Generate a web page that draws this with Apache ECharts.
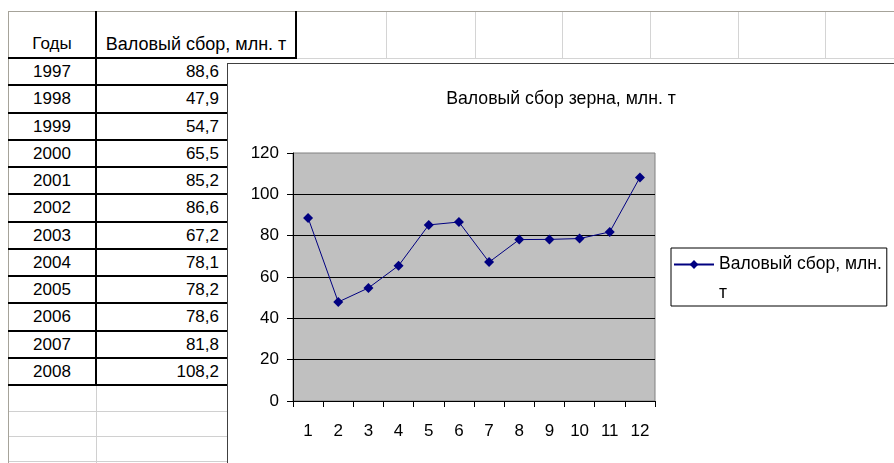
<!DOCTYPE html>
<html>
<head>
<meta charset="utf-8">
<script src="https://cdn.jsdelivr.net/npm/echarts@6/dist/echarts.min.js"></script>
<style>
html,body{margin:0;padding:0;width:894px;height:463px;overflow:hidden;background:#fff;font-family:"Liberation Sans",Arial,sans-serif;color:#000;}
#sheet{position:absolute;left:0;top:0;width:894px;height:463px;}
.abs{position:absolute;}
.txt{position:absolute;font-size:17px;white-space:nowrap;}
#chartWrap{position:absolute;left:227px;top:63px;width:667px;height:400px;border-left:1px solid #404040;border-top:1px solid #404040;background:#fff;box-sizing:border-box;}
#chart{position:absolute;left:0;top:0;width:666px;height:399px;}
</style>
</head>
<body>
<div id="sheet"></div>
<div id="chartWrap"><div id="chart"></div></div>
<script>
// ---- data ----
const years = ['1997','1998','1999','2000','2001','2002','2003','2004','2005','2006','2007','2008'];
const harvest = [88.6, 47.9, 54.7, 65.5, 85.2, 86.6, 67.2, 78.1, 78.2, 78.6, 81.8, 108.2];
const xLabels = ['1','2','3','4','5','6','7','8','9','10','11','12'];
const headers = ['Годы', 'Валовый сбор, млн. т'];
const chartTitle = 'Валовый сбор зерна, млн. т';
const seriesName = 'Валовый сбор, млн. т';
const yMin = 0, yMax = 120, yStep = 20;

// ---- spreadsheet background ----
const sheet = document.getElementById('sheet');
function box(x, y, w, h, c) {
  const d = document.createElement('div');
  d.className = 'abs';
  d.style.cssText = `left:${x}px;top:${y}px;width:${w}px;height:${h}px;background:${c};`;
  sheet.appendChild(d);
}
function txt(s, x, y, w, h, align, fs) {
  const d = document.createElement('div');
  d.className = 'txt';
  d.textContent = s;
  d.style.cssText += `left:${x}px;top:${y}px;width:${w}px;height:${h}px;line-height:${h}px;text-align:${align};` + (fs ? `font-size:${fs}px;` : '');
  sheet.appendChild(d);
}
// frame
box(8, 11, 886, 1, '#a6a39a');
box(8, 11, 1, 452, '#a6a39a');
// column grid lines in header row (right of table)
[386, 475, 562, 650, 738, 825].forEach(x => box(x, 12, 1, 47, '#d4d4d4'));
box(297, 58, 597, 1, '#d4d4d4');
// empty rows below table
const rowH = 27.25, firstRow = 57;
const tableBottom = Math.round(firstRow + rowH * years.length);
[411, 436, 461].forEach(y => box(9, y, 218, 1, '#d0d0d0'));
box(96, tableBottom, 1, 463 - tableBottom, '#d0d0d0');
// thick borders
box(95, 11, 2, tableBottom - 9, '#000');
box(295, 11, 2, 48, '#000');
box(8, firstRow, 289, 2, '#000');
for (let i = 1; i <= years.length; i++) {
  box(8, Math.round(firstRow + rowH * i), 219, 2, '#000');
}
// header texts
txt(headers[0], 9, 31, 86, 26, 'center');
txt(headers[1], 97, 31, 198, 26, 'center', 18);
// data cells
years.forEach((yr, i) => {
  const y0 = Math.round(firstRow + rowH * i) + 2;
  txt(yr, 9, y0, 86, 25, 'center');
  txt(harvest[i].toFixed(1).replace('.', ','), 97, y0, 122, 25, 'right');
});

// ---- chart ----
const FONT = '"Liberation Sans", Arial, sans-serif';
const chart = echarts.init(document.getElementById('chart'), null, {renderer: 'canvas'});
chart.setOption({
  animation: false,
  backgroundColor: '#fff',
  textStyle: {fontFamily: FONT, color: '#000'},
  title: {
    text: chartTitle,
    left: 'center',
    top: 21,
    padding: [5, 0, 5, 10],
    textStyle: {fontSize: 17.7, fontWeight: 'normal', color: '#000', fontFamily: FONT}
  },
  grid: {
    left: 65, top: 89, width: 362, height: 248,
    show: true, backgroundColor: '#c0c0c0', borderColor: '#808080', borderWidth: 1
  },
  legend: {
    orient: 'vertical',
    left: 443, top: 184,
    padding: [7, 5, 4, 2],
    borderColor: '#000', borderWidth: 1,
    itemWidth: 40, itemHeight: 11, itemGap: 0,
    selectedMode: false,
    formatter: n => {
      const m = n.match(/^(.*) (\S+)$/);
      return '{a|' + m[1] + '}\n{b|' + m[2] + '}';
    },
    textStyle: {
      fontSize: 17.5, color: '#000', fontFamily: FONT,
      rich: {
        a: {fontSize: 17.5, color: '#000', fontFamily: FONT, lineHeight: 57},
        b: {fontSize: 17.5, color: '#000', fontFamily: FONT, lineHeight: 1}
      }
    },
    data: [seriesName]
  },
  xAxis: {
    type: 'category',
    data: xLabels,
    boundaryGap: true,
    axisLine: {lineStyle: {color: '#000', width: 1}},
    axisTick: {show: true, alignWithLabel: false, length: 6, lineStyle: {color: '#000'}},
    axisLabel: {fontSize: 17, color: '#000', margin: 22, fontFamily: FONT},
    splitLine: {show: false}
  },
  yAxis: {
    type: 'value',
    min: yMin, max: yMax, interval: yStep,
    axisLine: {show: true, lineStyle: {color: '#000', width: 1}},
    axisTick: {show: true, length: 6, lineStyle: {color: '#000'}},
    axisLabel: {fontSize: 17, color: '#000', margin: 14, fontFamily: FONT},
    splitLine: {show: true, showMinLine: false, showMaxLine: false, lineStyle: {color: '#000', width: 1}}
  },
  series: [{
    type: 'line',
    name: seriesName,
    data: harvest,
    symbol: 'diamond',
    symbolSize: 10,
    lineStyle: {color: '#000080', width: 1},
    itemStyle: {color: '#000080'},
    emphasis: {disabled: true}
  }]
});
</script>
</body>
</html>
